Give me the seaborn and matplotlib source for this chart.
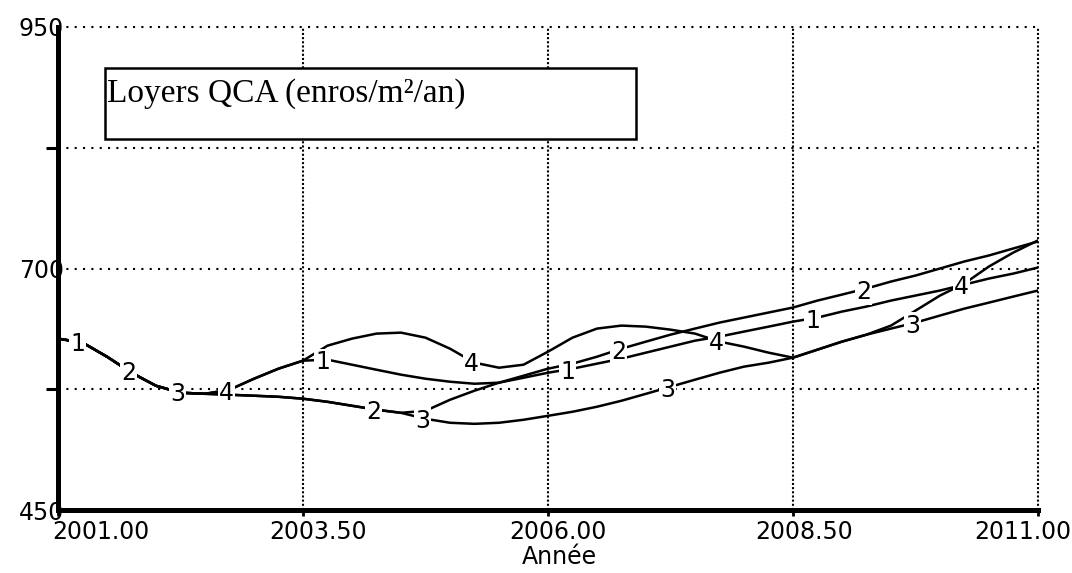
import numpy as np
import pandas as pd
import matplotlib
matplotlib.use("Agg")
import matplotlib.pyplot as plt
from matplotlib.patches import Rectangle
import seaborn as sns

# Simulation time axis (quarterly steps)
annees = np.arange(2001.0, 2011.0 + 0.001, 0.25)

# Rent trajectories for the four simulation runs (euros/m2/year)
loyer_1 = [627.4, 623.3, 608.7, 592.1, 578.6, 571.4, 570.3,
           574.5, 585.9, 596.3, 604.6, 605.6, 600.4, 595.2, 590.1, 585.9,
           582.8, 580.7, 581.8, 586.9, 592.1, 596.3, 601.5, 606.7, 612.9,
           619.1, 625.3, 629.5, 634.7, 639.8, 645.0, 649.2, 655.4, 660.6,
           666.8, 672.0, 677.2, 683.4, 689.6, 694.8, 701.0]
loyer_2 = [627.4, 623.3, 608.7, 592.1, 578.6, 571.4, 570.3,
           569.3, 568.3, 567.2, 565.2, 562.0, 557.9, 553.8, 550.6,
           552.7, 564.1, 573.5, 581.8, 589.0, 596.3, 601.5, 608.7, 617.0,
           624.3, 631.5, 637.8, 644.0, 649.2, 654.4, 659.6, 666.8, 673.0,
           679.3, 686.5, 692.7, 700.0, 707.3, 713.5, 720.8, 728.0]
loyer_3 = [627.4, 623.3, 608.7, 592.1, 578.6, 571.4, 570.3,
           569.3, 568.3, 567.2, 565.2, 562.0, 557.9, 553.8, 550.6,
           544.4, 540.3, 539.2, 540.3, 543.4, 547.5, 551.7, 556.9, 563.1,
           570.3, 577.6, 584.9, 592.1, 598.4, 602.5, 607.7,
           616.0, 624.3, 631.5, 637.8, 644.0, 651.3, 658.5, 664.7, 671.0, 677.2]
loyer_4 = [627.4, 623.3, 608.7, 592.1, 578.6, 571.4, 570.3,
           574.5, 585.9, 596.3, 604.6,
           620.1, 627.4, 632.6, 633.6, 628.4, 617.0, 602.5, 597.3, 600.4,
           613.9, 628.4, 637.8, 640.9, 639.8, 636.7, 632.6, 624.3, 619.1,
           612.9, 607.7, 616.0, 624.3, 631.5, 640.9, 656.4, 672.0, 684.5,
           702.1, 716.6, 729.1]

scenarios = ["1", "2", "3", "4"]
x_ticks = [2001.0, 2003.5, 2006.0, 2008.5, 2011.0]
x_labels = ["2001.00", "2003.50", "2006.00", "2008.50", "2011.00"]
y_ticks = [450, 700, 950]
y_labels = ["450", "700", "950"]
y_minor = [575, 825]
titre = "Loyers QCA (enros/m²/an)"
x_titre = "Année"

series = [loyer_1, loyer_2, loyer_3, loyer_4]
df = pd.DataFrame({
    "Année": np.tile(annees, len(series)),
    "Loyer": np.concatenate(series),
    "Scénario": np.repeat(scenarios, len(annees)),
})

sns.set_theme(style="white")
plt.rcParams["font.family"] = ["DejaVu Sans"]

DPI = 100
W, H = 1072, 573
FS = 17
fig = plt.figure(figsize=(W / DPI, H / DPI), dpi=DPI)
ax = fig.add_axes([58 / W, (H - 510) / H, 980 / W, 483 / H])

sns.lineplot(data=df, x="Année", y="Loyer", hue="Scénario",
             palette=["black"] * 4, linewidth=1.8, legend=False,
             ax=ax, zorder=3)

ax.set_xlim(2001.0, 2011.0)
ax.set_ylim(450, 950)

# dotted grid
for yv in y_minor + [700, 950]:
    ax.axhline(yv, color="black", lw=1.5, ls=(0, (1, 3)), zorder=1, clip_on=False)
for xv in x_ticks[1:]:
    ax.axvline(xv, color="black", lw=1.5, ls=(0, (1, 1)), zorder=1, clip_on=False)

# run numbers placed along each curve
premier = [2001.2, 2001.72, 2002.22, 2002.72]
for nom, serie, t0 in zip(scenarios, series, premier):
    t = t0
    while t <= 2011.0:
        yv = np.interp(t, annees, serie)
        ax.text(t, yv, nom, ha="center", va="center_baseline", fontsize=FS,
                color="black", zorder=4,
                bbox=dict(boxstyle="square,pad=0.06", fc="white", ec="none"))
        t += 2.5

# axes frame
sns.despine(ax=ax, top=True, right=True)
for side in ["left", "bottom"]:
    ax.spines[side].set_linewidth(3.6)
    ax.spines[side].set_color("black")
    ax.spines[side].set_zorder(5)

# x ticks: marks from the axis, labels written beside them
ax.set_xticks(x_ticks)
ax.set_xticklabels([])
ax.tick_params(axis="x", which="major", bottom=True, direction="out", length=4,
               width=2, colors="black")
shifts = [(-6, "left"), (15, "center"), (10, "center"), (11, "center"), (-15, "center")]
for v, lab, (dx, ha) in zip(x_ticks, x_labels, shifts):
    ax.annotate(lab, xy=(v, 0), xycoords=("data", "axes fraction"),
                xytext=(dx, -10), textcoords="offset pixels",
                ha=ha, va="top", fontsize=FS, color="black", annotation_clip=False)

ax.set_yticks(y_ticks)
ax.set_yticklabels(y_labels)
ax.tick_params(axis="y", which="major", left=True, length=0, pad=-4.5,
               labelsize=FS, colors="black")
ax.set_yticks(y_minor, minor=True)
ax.tick_params(axis="y", which="minor", left=True, direction="out", length=8.3,
               width=2.2, color="black")

ax.set_xlabel(x_titre, fontsize=FS, color="black")
ax.xaxis.set_label_coords(0.512, -0.0725)
ax.set_ylabel("")

# title box
ax.add_patch(Rectangle((0.048, 0.768), 0.5418, 0.147, transform=ax.transAxes,
                       fc="white", ec="black", lw=1.8, zorder=6, clip_on=False))
ax.text(0.050, 0.845, titre, transform=ax.transAxes, ha="left", va="baseline",
        fontsize=24, family=["Liberation Serif", "DejaVu Serif"], color="black", zorder=7)

fig.savefig("out.png", dpi=DPI)
